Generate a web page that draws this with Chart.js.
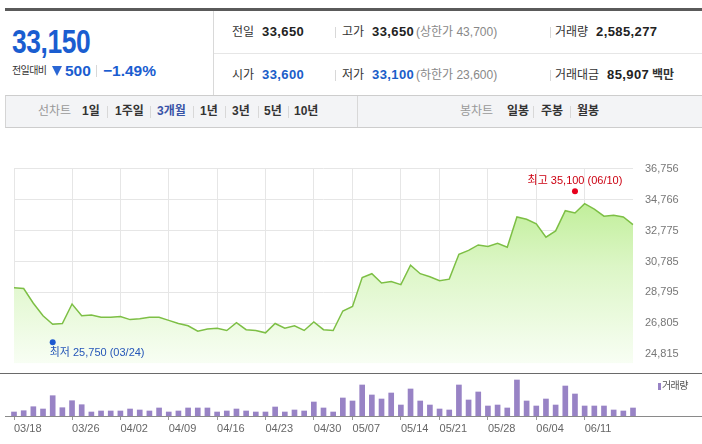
<!DOCTYPE html>
<html><head><meta charset="utf-8">
<script src="https://cdn.jsdelivr.net/npm/chart.js@4"></script>
<style>
body{margin:0;width:702px;height:444px;overflow:hidden;background:#fff;position:relative;font-family:"Liberation Sans","Noto Sans CJK KR",sans-serif;color:#333}
.t{position:absolute;white-space:nowrap;line-height:16px;height:16px;font-size:12px}
.b{font-weight:bold;font-size:13px;color:#222;letter-spacing:0.4px}
.g{color:#888}
.blue{color:#1a5dc8}
.sep{position:absolute;width:1px;background:#d8d8d8}
.tb{font-weight:bold;color:#333;font-size:12px}
canvas{position:absolute;left:0}
</style></head>
<body>
<div style="position:absolute;left:5px;top:8px;width:697px;height:3px;background:#5a5a5a"></div>
<div style="position:absolute;left:213px;top:11px;width:1px;height:84px;background:#d9d9d9"></div>
<div style="position:absolute;left:214px;top:53px;width:488px;height:1px;background:#e6e6e6"></div>

<div class="t" style="left:12px;top:22px;height:40px;line-height:40px;font-size:33px;font-weight:bold;color:#1a5dd0;transform:scaleX(0.8);transform-origin:0 0;letter-spacing:-0.5px">33,150</div>
<div class="t" style="left:12px;top:63px;font-size:10px;color:#333;letter-spacing:-0.6px">전일대비</div>
<div style="position:absolute;left:52px;top:66px;width:0;height:0;border-left:5.5px solid transparent;border-right:5.5px solid transparent;border-top:10px solid #2a66d4"></div>
<div class="t" style="left:65px;top:61px;height:20px;line-height:20px;font-size:15.5px;font-weight:bold;color:#1a5dd0">500</div>
<div class="sep" style="left:96px;top:65px;height:12px"></div>
<div class="t" style="left:103px;top:61px;height:20px;line-height:20px;font-size:15.5px;font-weight:bold;color:#1a5dd0">−1.49%</div>

<div class="t" style="left:232px;top:24px">전일</div>
<div class="t b" style="left:262px;top:24px">33,650</div>
<div class="sep" style="left:335px;top:27px;height:11px"></div>
<div class="t" style="left:342px;top:24px">고가</div>
<div class="t b" style="left:372px;top:24px">33,650</div>
<div class="t g" style="left:416px;top:24px">(상한가 43,700)</div>
<div class="sep" style="left:550px;top:27px;height:11px"></div>
<div class="t" style="left:555px;top:24px">거래량</div>
<div class="t b" style="left:596px;top:24px">2,585,277</div>

<div class="t" style="left:232px;top:67px">시가</div>
<div class="t b blue" style="left:262px;top:67px">33,600</div>
<div class="sep" style="left:335px;top:70px;height:11px"></div>
<div class="t" style="left:342px;top:67px">저가</div>
<div class="t b blue" style="left:372px;top:67px">33,100</div>
<div class="t g" style="left:416px;top:67px">(하한가 23,600)</div>
<div class="sep" style="left:550px;top:70px;height:11px"></div>
<div class="t" style="left:555px;top:67px">거래대금</div>
<div class="t b" style="left:607px;top:67px">85,907</div>
<div class="t" style="left:652px;top:67px;font-weight:bold">백만</div>

<div style="position:absolute;left:5px;top:95px;width:697px;height:31px;background:#f3f4f6;border-top:1px solid #cdcdcd;border-bottom:1px solid #cdcdcd;border-left:1px solid #d5d5d5;box-sizing:content-box"></div>
<div style="position:absolute;left:357px;top:96px;width:1px;height:31px;background:#d8d8d8"></div>
<div class="t g" style="left:38px;top:103px;color:#999">선차트</div>
<div class="t tb" style="left:82px;top:103px">1일</div>
<div class="sep" style="left:107px;top:106px;height:12px"></div>
<div class="t tb" style="left:115px;top:103px">1주일</div>
<div class="sep" style="left:150px;top:106px;height:12px"></div>
<div class="t tb" style="left:157px;top:103px;color:#3853a6">3개월</div>
<div class="sep" style="left:193px;top:106px;height:12px"></div>
<div class="t tb" style="left:200px;top:103px">1년</div>
<div class="sep" style="left:225px;top:106px;height:12px"></div>
<div class="t tb" style="left:232px;top:103px">3년</div>
<div class="sep" style="left:258px;top:106px;height:12px"></div>
<div class="t tb" style="left:264px;top:103px">5년</div>
<div class="sep" style="left:288px;top:106px;height:12px"></div>
<div class="t tb" style="left:294px;top:103px">10년</div>
<div class="t g" style="left:460px;top:103px;color:#999">봉차트</div>
<div class="t tb" style="left:507px;top:103px">일봉</div>
<div class="sep" style="left:533px;top:106px;height:12px"></div>
<div class="t tb" style="left:541px;top:103px">주봉</div>
<div class="sep" style="left:570px;top:106px;height:12px"></div>
<div class="t tb" style="left:577px;top:103px">월봉</div>

<canvas id="price" width="702" height="232" style="top:150px"></canvas>
<canvas id="vol" width="702" height="70" style="top:374px"></canvas>
<div style="position:absolute;left:0;top:373px;width:702px;height:1px;background:#6a6a6a"></div>
<div style="position:absolute;left:5px;top:416px;width:697px;height:1px;background:#8a8a8a"></div>
<div style="position:absolute;left:658px;top:383px;width:3px;height:7px;background:#9883c5"></div>
<div class="t" style="left:662px;top:378px;font-size:10px;color:#555;letter-spacing:-0.6px">거래량</div>

<script>
const dates = ['03/18','03/19','03/20','03/21','03/22','03/25','03/26','03/27','03/28','03/29',
 '04/01','04/02','04/03','04/04','04/05','04/08','04/09','04/10','04/11','04/12',
 '04/15','04/16','04/17','04/18','04/19','04/22','04/23','04/24','04/25','04/26',
 '04/29','04/30','05/01','05/02','05/03','05/07','05/08','05/09','05/10','05/13',
 '05/14','05/16','05/17','05/20','05/21','05/22','05/23','05/24','05/27','05/28',
 '05/29','05/30','05/31','06/03','06/04','06/05','06/06','06/07','06/10','06/11',
 '06/12','06/13','06/14','06/17','06/18'];
const tickDates = ['03/18','03/26','04/02','04/09','04/16','04/23','04/30','05/07','05/14','05/21','05/28','06/04','06/11'];
const closePrices = [29100,29050,28100,27300,26750,26800,28050,27300,27350,27200,
 27200,27250,27050,27100,27200,27200,27000,26800,26650,26300,
 26450,26500,26350,26850,26400,26350,26200,26800,26500,26650,
 26350,26900,26400,26350,27600,27900,29750,30000,29400,29500,
 29300,30550,30000,29800,29550,29650,31250,31500,31850,31750,
 31950,31700,33650,33500,33200,32350,32750,34050,33900,34500,
 34150,33700,33750,33650,33150];
const volumes = [1290000,1710000,3000000,2260000,6560000,2680000,4940000,3650000,1290000,1620000,
 1620000,1620000,2260000,1940000,1620000,2590000,1290000,1620000,2590000,2590000,
 2590000,1290000,1620000,2260000,1620000,1290000,1290000,2910000,1290000,1940000,
 1620000,4520000,2590000,1290000,5820000,4850000,10020000,6790000,5490000,7430000,
 3550000,8730000,4850000,3550000,2260000,1940000,10020000,5170000,7760000,3230000,
 3550000,2590000,11630000,4850000,3230000,5490000,3550000,9690000,7110000,3230000,
 3230000,3230000,1940000,1620000,2585277];
const priceTicks = [24815,26805,28795,30785,32775,34766,36756];
const priceRange = [24234, 36756];
const volumeMax = [13570000];
const highMark = ['06/10', 35100, '최고 35,100 (06/10)'];
const lowMark = ['03/22', 25750, '최저 25,750 (03/24)'];

const FONT = '"Liberation Sans","Noto Sans CJK KR",sans-serif';

const markPlugin = {
  id:'marks',
  afterDatasetsDraw(c){
    const ctx=c.ctx, xs=c.scales.x, ys=c.scales.y;
    ctx.save();
    ctx.font = '11px ' + FONT;
    ctx.textBaseline = 'middle';
    let px = xs.getPixelForValue(dates.indexOf(highMark[0]));
    let py = ys.getPixelForValue(highMark[1]) - 3;
    ctx.fillStyle = '#e8001c';
    ctx.beginPath(); ctx.arc(px, py, 3, 0, Math.PI*2); ctx.fill();
    ctx.fillStyle = '#cc0011'; ctx.textAlign = 'center';
    ctx.fillText(highMark[2], px, py - 10);
    px = xs.getPixelForValue(dates.indexOf(lowMark[0]));
    py = ys.getPixelForValue(lowMark[1]) + 2.5;
    ctx.fillStyle = '#1e5bd0';
    ctx.beginPath(); ctx.arc(px, py, 3, 0, Math.PI*2); ctx.fill();
    ctx.fillStyle = '#2556b8'; ctx.textAlign = 'left';
    ctx.fillText(lowMark[2], px - 3, py + 11);
    ctx.restore();
  }
};

function keepTickDates(s){ s.ticks = s.ticks.filter(t => tickDates.includes(dates[t.value])); }

new Chart(document.getElementById('price'), {
  type:'line',
  data:{ labels:dates, datasets:[{
    data:closePrices, borderColor:'#7dbf45', borderWidth:1.5, pointRadius:0, tension:0,
    fill:'start',
    backgroundColor:(ctx)=>{ const ca=ctx.chart.chartArea; if(!ca) return 'rgba(0,0,0,0)';
      const g=ctx.chart.ctx.createLinearGradient(0,ca.top,0,ca.bottom);
      g.addColorStop(0,'#b2ea82'); g.addColorStop(0.5,'#dcf6c6'); g.addColorStop(1,'#f8fef4'); return g; }
  }]},
  options:{
    responsive:false, animation:false, devicePixelRatio:1,
    layout:{padding:{left:14,top:14,right:0,bottom:9}},
    plugins:{legend:{display:false}, tooltip:{enabled:false}},
    scales:{
      x:{ type:'category', offset:false,
        ticks:{display:false, autoSkip:false},
        grid:{color:'#e6e6e6', drawTicks:false, offset:false}, border:{display:false},
        afterBuildTicks:keepTickDates,
        afterFit:(s)=>{ s.height=0; } },
      y:{ position:'right', min:priceRange[0], max:priceRange[1],
        afterBuildTicks:(s)=>{ s.ticks = priceTicks.map(v=>({value:v})); },
        ticks:{ color:'#777', font:{size:11, family:FONT}, padding:12,
          callback:(v)=>v.toLocaleString('en-US') },
        grid:{color:'#e6e6e6', drawTicks:false}, border:{display:false},
        afterFit:(s)=>{ s.width=69; } }
    }
  },
  plugins:[markPlugin]
});

new Chart(document.getElementById('vol'), {
  type:'bar',
  data:{ labels:dates, datasets:[{ data:volumes, backgroundColor:'#9883c5', barThickness:5, clip:false }]},
  options:{
    responsive:false, animation:false, devicePixelRatio:1,
    layout:{padding:{left:14,top:0,right:69,bottom:0}},
    plugins:{legend:{display:false}, tooltip:{enabled:false}},
    scales:{
      x:{ type:'category', offset:false,
        ticks:{ autoSkip:false, maxRotation:0, align:'start', color:'#666', padding:2,
          font:{size:11, family:FONT} },
        grid:{ drawOnChartArea:false, drawTicks:true, tickLength:4, tickColor:'#999', offset:false },
        border:{display:false},
        afterBuildTicks:keepTickDates,
        afterFit:(s)=>{ s.height=28; } },
      y:{ display:false, min:0, max:volumeMax[0] }
    }
  }
});
</script>
</body></html>
